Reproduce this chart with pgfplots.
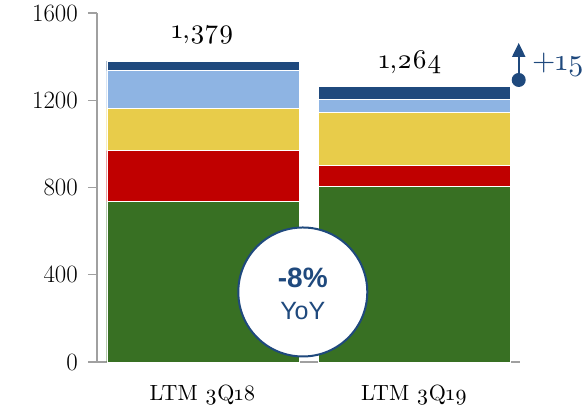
\documentclass[border=0pt]{standalone}
\usepackage{fontspec}
\setmainfont{lmroman10-regular.otf}[BoldFont=lmroman10-bold.otf, Numbers=OldStyle]
\newfontfamily\sans{Liberation Sans}
\usepackage{pgfplots}
\pgfplotsset{compat=1.18}
\usetikzlibrary{arrows.meta}
\definecolor{cdblue}{RGB}{31,73,125}
\definecolor{clblue}{RGB}{142,180,227}
\definecolor{cyellow}{RGB}{232,204,74}
\definecolor{cred}{RGB}{192,0,0}
\definecolor{cgreen}{RGB}{56,112,35}
\definecolor{caxis}{RGB}{160,160,160}
\begin{document}
\begin{tikzpicture}
\useasboundingbox (-97pt,-46pt) rectangle (486pt,362pt);
\begin{axis}[
  at={(0,0)}, anchor=south west,
  scale only axis, width=423pt, height=349pt,
  xmin=-0.5, xmax=1.5, ymin=0, ymax=1600,
  enlargelimits=false, clip=false,
  ybar stacked, bar width=192pt,
  axis lines=left, axis line style={-, draw=caxis, line width=1.2pt},
  ytick={0,400,800,1200,1600},
  /pgf/number format/1000 sep={},
  xtick={0,1}, xticklabels={LTM 3Q18, LTM 3Q19},
  tick align=outside, major tick length=9pt,
  ytick style={draw=caxis, line width=1.2pt},
  xtick style={draw=none},
  tick label style={font=\fontsize{27}{27}\selectfont},
  every y tick label/.append style={inner sep=0pt, xshift=-10pt},
  xticklabel style={font=\fontsize{22}{22}\selectfont, yshift=-10pt},
]
\addplot[fill=cgreen, draw=white, line width=0.4pt] coordinates {(0,735) (1,804)};
\addplot[fill=cred, draw=white, line width=0.4pt] coordinates {(0,234) (1,96)};
\addplot[fill=cyellow, draw=white, line width=0.4pt] coordinates {(0,195) (1,244)};
\addplot[fill=clblue, draw=white, line width=0.4pt] coordinates {(0,172) (1,61)};
\addplot[fill=cdblue, draw=white, line width=0.4pt] coordinates {(0,43) (1,59)};
\coordinate (lab1) at (axis cs:0,1500);
\coordinate (lab2) at (axis cs:0.98,1376);
\coordinate (circ) at (axis cs:0.473,321);
\coordinate (pct) at (axis cs:0.473,385);
\coordinate (yoy) at (axis cs:0.473,234);
\coordinate (arrA) at (axis cs:1.494,1293);
\coordinate (arrB) at (axis cs:1.494,1463);
\coordinate (plus) at (axis cs:1.556,1362);
\end{axis}
\node[font=\fontsize{27}{27}\selectfont] at (lab1) {1,379};
\node[font=\fontsize{27}{27}\selectfont] at (lab2) {1,264};
\node[circle, draw=cdblue, line width=2pt, fill=white, minimum size=129pt, inner sep=0pt] at (circ) {};
\node[text=cdblue, font=\sans\bfseries\fontsize{28}{28}\selectfont] at (pct) {-8\%};
\node[text=cdblue, font=\sans\fontsize{25}{25}\selectfont] at (yoy) {YoY};
\draw[cdblue, line width=2pt, -{Triangle[width=13pt,length=14pt]}] (arrA) -- (arrB);
\fill[cdblue] (arrA) circle (7pt);
\node[anchor=west, text=cdblue, font=\fontsize{30}{30}\selectfont, inner sep=0pt] at (plus) {+155};
\end{tikzpicture}
\end{document}
